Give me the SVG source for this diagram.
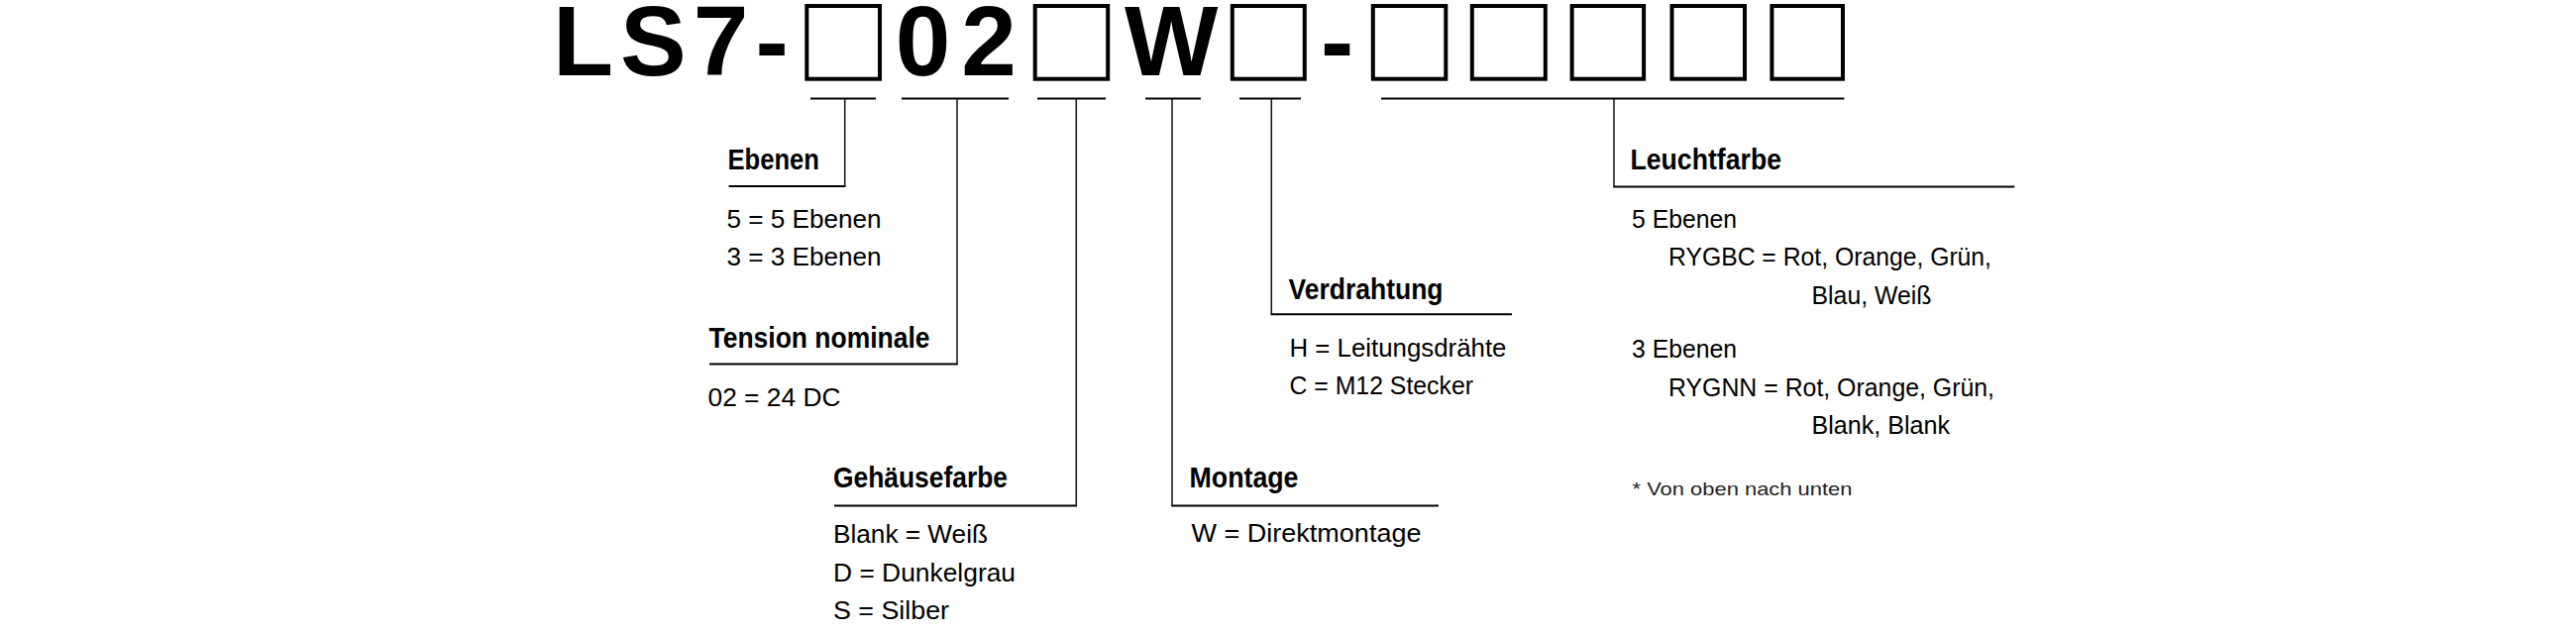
<svg xmlns="http://www.w3.org/2000/svg" width="2600" height="640" viewBox="0 0 2600 640">
<style>
.head{font-family:"Liberation Sans",Arial,sans-serif;font-weight:bold;font-size:100px;fill:#000}
.box{fill:none;stroke:#000;stroke-width:4}
.lbl{font-family:"Liberation Sans",Arial,sans-serif;font-weight:bold;font-size:30px;fill:#000}
.val{font-family:"Liberation Sans",Arial,sans-serif;font-size:25.5px;fill:#000}
.note{font-family:"Liberation Sans",Arial,sans-serif;font-size:19px;fill:#222}
.bar{fill:none;stroke:#000;stroke-width:2}
.stem{fill:none;stroke:#111;stroke-width:1.5}
</style>
<rect width="2600" height="640" fill="#fff"/>
<g id="code">
<text class="head" x="558" y="76" letter-spacing="7">LS7-</text>
<rect class="box" x="814.3" y="6" width="73.7" height="73.7"/>
<text class="head" x="903.7" y="76" letter-spacing="11">02</text>
<rect class="box" x="1044.7" y="6" width="73.5" height="73.7"/>
<text class="head" x="1135" y="76">W</text>
<rect class="box" x="1243.8" y="6" width="73" height="73.7"/>
<text class="head" x="1333" y="76">-</text>
<rect class="box" x="1385.8" y="6" width="73.5" height="73.7"/>
<rect class="box" x="1485.8" y="6" width="74" height="73.7"/>
<rect class="box" x="1586.6" y="6" width="72.5" height="73.7"/>
<rect class="box" x="1687.5" y="6" width="73.5" height="73.7"/>
<rect class="box" x="1788.4" y="6" width="71.6" height="73.7"/>
</g>
<g id="connectors">
<path class="bar" d="M818 99.5H884M735.5 188H853.5"/>
<path class="stem" d="M852.7 99.5V188"/>
<path class="bar" d="M910 99.5H1018M716 367.5H966.8"/>
<path class="stem" d="M966 99.5V367.5"/>
<path class="bar" d="M1047 99.5H1116M842 510.5H1087"/>
<path class="stem" d="M1086.3 99.5V510.5"/>
<path class="bar" d="M1156 99.5H1212M1182.3 510.5H1452"/>
<path class="stem" d="M1183 99.5V510.5"/>
<path class="bar" d="M1251 99.5H1313M1282.5 317.3H1526"/>
<path class="stem" d="M1283.3 99.5V317.3"/>
<path class="bar" d="M1394 99.5H1861.4M1628.3 188.5H2033.3"/>
<path class="stem" d="M1629 99.5V188.5"/>
</g>
<g id="ebenen">
<text class="lbl" x="734.5" y="171" textLength="92.5" lengthAdjust="spacingAndGlyphs">Ebenen</text>
<text class="val" x="733.5" y="230" textLength="156" lengthAdjust="spacingAndGlyphs">5 = 5 Ebenen</text>
<text class="val" x="733.5" y="268.3" textLength="156" lengthAdjust="spacingAndGlyphs">3 = 3 Ebenen</text>
</g>
<g id="tension">
<text class="lbl" x="715.5" y="350.5" textLength="223" lengthAdjust="spacingAndGlyphs">Tension nominale</text>
<text class="val" x="714.5" y="410" textLength="134" lengthAdjust="spacingAndGlyphs">02 = 24 DC</text>
</g>
<g id="gehaeusefarbe">
<text class="lbl" x="841" y="491.7" textLength="176" lengthAdjust="spacingAndGlyphs">Gehäusefarbe</text>
<text class="val" x="841" y="548.3" textLength="156" lengthAdjust="spacingAndGlyphs">Blank = Weiß</text>
<text class="val" x="841" y="586.7" textLength="184" lengthAdjust="spacingAndGlyphs">D = Dunkelgrau</text>
<text class="val" x="841" y="625" textLength="117" lengthAdjust="spacingAndGlyphs">S = Silber</text>
</g>
<g id="montage">
<text class="lbl" x="1200.5" y="491.7" textLength="110" lengthAdjust="spacingAndGlyphs">Montage</text>
<text class="val" x="1202.5" y="547.3" textLength="232" lengthAdjust="spacingAndGlyphs">W = Direktmontage</text>
</g>
<g id="verdrahtung">
<text class="lbl" x="1300.5" y="301.7" textLength="156" lengthAdjust="spacingAndGlyphs">Verdrahtung</text>
<text class="val" x="1301.5" y="360" textLength="219" lengthAdjust="spacingAndGlyphs">H = Leitungsdrähte</text>
<text class="val" x="1301.5" y="398.3" textLength="185.5" lengthAdjust="spacingAndGlyphs">C = M12 Stecker</text>
</g>
<g id="leuchtfarbe">
<text class="lbl" x="1645.5" y="171" textLength="152.5" lengthAdjust="spacingAndGlyphs">Leuchtfarbe</text>
<text class="val" x="1647" y="230" textLength="106" lengthAdjust="spacingAndGlyphs">5 Ebenen</text>
<text class="val" x="1684" y="268.3" textLength="326" lengthAdjust="spacingAndGlyphs">RYGBC = Rot, Orange, Grün,</text>
<text class="val" x="1828.5" y="306.7" textLength="121" lengthAdjust="spacingAndGlyphs">Blau, Weiß</text>
<text class="val" x="1647" y="361" textLength="106" lengthAdjust="spacingAndGlyphs">3 Ebenen</text>
<text class="val" x="1684" y="400" textLength="329" lengthAdjust="spacingAndGlyphs">RYGNN = Rot, Orange, Grün,</text>
<text class="val" x="1828.5" y="438.3" textLength="139.5" lengthAdjust="spacingAndGlyphs">Blank, Blank</text>
<text class="note" x="1647.5" y="500" textLength="222" lengthAdjust="spacingAndGlyphs">* Von oben nach unten</text>
</g>
</svg>
